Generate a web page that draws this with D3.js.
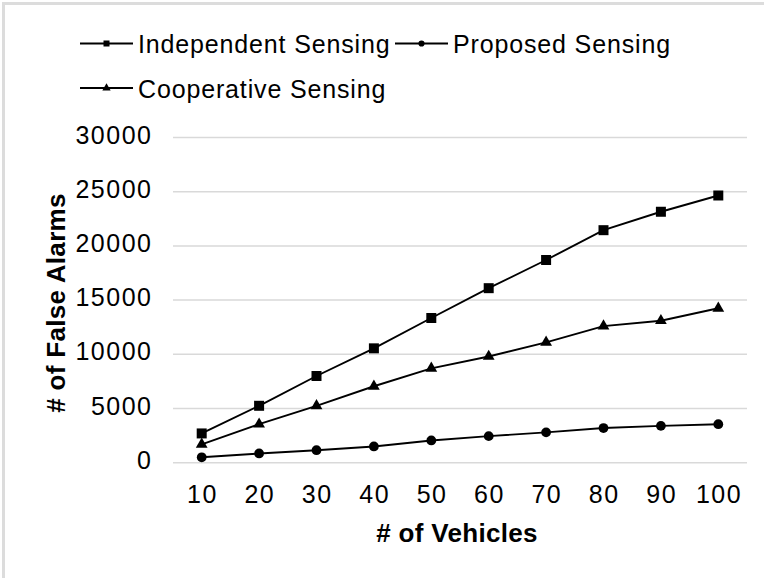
<!DOCTYPE html>
<meta charset="utf-8">
<style>
body { margin: 0; background: #fff; }
text { font-family: "Liberation Sans", Arial, sans-serif; fill: #000; }
.tick-label { font-size: 25px; letter-spacing: 1.5px; }
.legend-label { font-size: 25px; letter-spacing: 0.85px; }
.axis-title { font-size: 26px; font-weight: bold; letter-spacing: 0.3px; }
.grid { stroke: #d9d9d9; stroke-width: 1.5px; }
.series { fill: none; stroke: #000; stroke-width: 1.9px; }
</style>
<svg width="764" height="578"></svg>
<script src="https://d3js.org/d3.v7.min.js"></script>
<script>

var vehicles = [10, 20, 30, 40, 50, 60, 70, 80, 90, 100];
var independentSensing = [2700, 5250, 8000, 10550, 13350, 16100, 18700, 21450, 23150, 24650];
var proposedSensing = [500, 850, 1150, 1500, 2050, 2450, 2800, 3200, 3400, 3550];
var cooperativeSensing = [1700, 3550, 5250, 7050, 8700, 9800, 11100, 12600, 13100, 14250];
var yTicks = [0, 5000, 10000, 15000, 20000, 25000, 30000];

var series = [
  {name: "Independent Sensing", values: independentSensing, symbol: d3.symbolSquare, size: 100, legendSize: 36},
  {name: "Proposed Sensing", values: proposedSensing, symbol: d3.symbolCircle, size: 75, legendSize: 30},
  {name: "Cooperative Sensing", values: cooperativeSensing, symbol: d3.symbolTriangle, size: 60, legendSize: 30}
];

var svg = d3.select("svg");

// outer frame (only top/left visible in the picture)
svg.append("rect")
    .attr("x", 3.5).attr("y", 3.5)
    .attr("width", 800).attr("height", 600)
    .attr("fill", "none")
    .attr("stroke", "#dcdcdc")
    .attr("stroke-width", 3);

var x = d3.scaleBand()
    .domain(vehicles)
    .range([173, 747]);

var y = d3.scaleLinear()
    .domain([0, 30000])
    .range([462.7, 137.5]);

// gridlines
svg.selectAll("line.grid")
  .data(yTicks)
  .enter().append("line")
    .attr("class", "grid")
    .attr("x1", x.range()[0])
    .attr("x2", x.range()[1])
    .attr("y1", function(d) { return y(d); })
    .attr("y2", function(d) { return y(d); });

// y tick labels
svg.selectAll("text.ylab")
  .data(yTicks)
  .enter().append("text")
    .attr("class", "tick-label ylab")
    .attr("x", 152.5)
    .attr("y", function(d) { return y(d) + 6; })
    .attr("text-anchor", "end")
    .text(function(d) { return d; });

// x tick labels
svg.selectAll("text.xlab")
  .data(vehicles)
  .enter().append("text")
    .attr("class", "tick-label xlab")
    .attr("x", function(d) { return x(d) + x.bandwidth() / 2 + 0.75; })
    .attr("y", 503)
    .attr("text-anchor", "middle")
    .text(function(d) { return d; });

// axis titles
svg.append("text")
    .attr("class", "axis-title")
    .attr("x", 457)
    .attr("y", 542)
    .attr("text-anchor", "middle")
    .text("# of Vehicles");

svg.append("text")
    .attr("class", "axis-title")
    .attr("transform", "translate(65,303) rotate(-90)")
    .attr("text-anchor", "middle")
    .text("# of False Alarms");

var line = d3.line()
    .x(function(d, i) { return x(vehicles[i]) + x.bandwidth() / 2; })
    .y(function(d) { return y(d); });

series.forEach(function(s) {
  svg.append("path")
      .attr("class", "series")
      .attr("d", line(s.values));

  svg.selectAll(null)
    .data(s.values)
    .enter().append("path")
      .attr("transform", function(d, i) {
        return "translate(" + (x(vehicles[i]) + x.bandwidth() / 2) + "," + y(d) + ")";
      })
      .attr("d", d3.symbol().type(s.symbol).size(s.size))
      .attr("fill", "#000");
});

// legend
var legendPos = [
  {lx: 80, ly: 43.5},
  {lx: 395, ly: 43.5},
  {lx: 80, ly: 88}
];

series.forEach(function(s, i) {
  var p = legendPos[i];
  var g = svg.append("g").attr("transform", "translate(" + p.lx + "," + p.ly + ")");
  g.append("line")
      .attr("x1", 0).attr("x2", 53)
      .attr("y1", 0).attr("y2", 0)
      .attr("stroke", "#000")
      .attr("stroke-width", 1.8);
  g.append("path")
      .attr("transform", "translate(26.5,0)")
      .attr("d", d3.symbol().type(s.symbol).size(s.legendSize))
      .attr("fill", "#000");
  g.append("text")
      .attr("class", "legend-label")
      .attr("x", 58)
      .attr("y", 9.5)
      .text(s.name);
});

</script>
